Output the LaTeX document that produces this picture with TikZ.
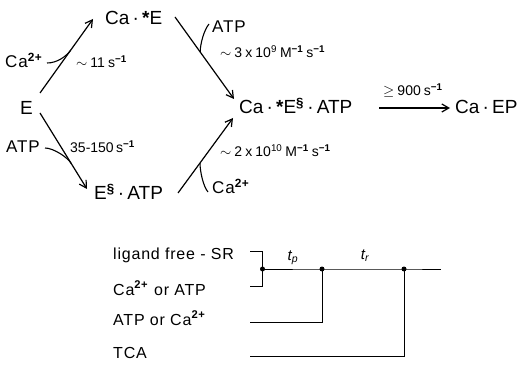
\documentclass[tikz,border=0pt]{standalone}
\usepackage{fontspec}
\setmainfont{Liberation Sans}
\usetikzlibrary{calc,arrows.meta}
\newcommand\mydot{\,·\,}
\newcommand\myinv{\textsuperscript{\textbf{−1}}}
\newcommand\gp{\hspace{0.22em}}
\begin{document}
\begin{tikzpicture}[x=1pt,y=-1pt,
  sp/.style={inner sep=0pt,anchor=base west,font=\fontsize{19}{21}\selectfont},
  rate/.style={inner sep=0pt,anchor=base west,font=\fontsize{14}{16}\selectfont},
  lig/.style={inner sep=0pt,anchor=base west,font=\fontsize{17}{19}\selectfont\addfontfeature{LetterSpace=5}},
  lab/.style={inner sep=0pt,anchor=base west,font=\fontsize{16}{18}\selectfont\addfontfeature{LetterSpace=5}},
  tlab/.style={inner sep=0pt,anchor=base,font=\fontsize{15}{17}\selectfont\itshape},
  rx/.style={line width=1.2pt,-{Straight Barb[length=7pt,width=8pt]}},
  feed/.style={line width=1.1pt},
  wire/.style={line width=1pt},
  dot/.style={circle,fill,inner sep=0pt,minimum size=5pt}]
\useasboundingbox (0,0) rectangle (522,366);
% species
\node[sp] (CaE) at (105,25) {Ca\mydot\textbf{*}E};
\node[sp] (E) at (20,115) {E};
\node[sp] (EA) at (94,200) {E\textsuperscript{\textbf{§}}\mydot ATP};
\node[sp] (CEA) at (239,114) {Ca\mydot\textbf{*}E\textsuperscript{\textbf{§}}\mydot ATP};
\node[sp] (CEP) at (455,114) {Ca\mydot EP};
% ligands
\node[lig] (ca1) at (5,68) {Ca\textsuperscript{\textbf{2+}}};
\node[lig] (atp1) at (6,153) {ATP};
\node[lig] (atp2) at (212,33) {ATP};
\node[lig] (ca2) at (212,194) {Ca\textsuperscript{\textbf{2+}}};
% rates
\node[rate] (k1) at (76,68) {$\sim$\gp 11\gp s\myinv};
\node[rate] (k2) at (70,153) {35-150\,s\myinv};
\node[rate] (k3) at (220,58) {$\sim$\gp 3\gp x\gp 10\textsuperscript{9}\gp M\myinv\gp s\myinv};
\node[rate] (k4) at (220,157) {$\sim$\gp 2\gp x\gp 10\textsuperscript{10}\gp M\myinv\gp s\myinv};
\node[rate] (k5) at (383,96) {$\geq$\gp 900\gp s\myinv};
% reaction arrows
\draw[rx] ($(E.base west)+(20,-22)$) -- coordinate[pos=0.58] (j1) ($(CaE.base west)+(-12,-6)$);
\draw[rx] ($(CaE.base west)+(70,-8)$) -- coordinate[pos=0.427] (j2) ($(CEA.base west)+(-5,-15)$);
\draw[rx] ($(E.base west)+(20,-2)$) -- coordinate[pos=0.667] (j3) ($(EA.base west)+(-7,-11)$);
\draw[rx] ($(EA.base west)+(84,-7)$) -- coordinate[pos=0.4] (j4) ($(CEA.base west)+(-6,4)$);
\draw[rx] ($(CEA.base west)+(140,-6)$) -- ($(CEP.base west)+(-5,-6)$);
% ligand feeds
\draw[feed] ($(ca1.base west)+(42,-5)$) .. controls +(10,0) and +(-4.6,6.5) .. (j1);
\draw[feed] ($(atp1.base west)+(39,-5)$) .. controls +(8,0) and +(-4.1,-6.9) .. (j3);
\draw[feed] ($(atp2.base west)+(-3,-9)$) .. controls +(-5,6) and +(0,-8) .. (j2);
\draw[feed] ($(ca2.base west)+(-4,-2)$) .. controls +(-5,-6) and +(0,8) .. (j4);
% timing scheme
\node[lab] (l1) at (113,259) {ligand free - SR};
\node[lab] (l2) at (113,295) {Ca\textsuperscript{\textbf{2+}} or ATP};
\node[lab] (l3) at (113,325) {ATP or Ca\textsuperscript{\textbf{2+}}};
\node[lab] (l4) at (113,358) {TCA};
\coordinate (w1) at (250,251);
\coordinate (w2) at (250,286.5);
\coordinate (w3) at (250,322);
\coordinate (w4) at (250,356);
\node[dot] (d1) at (262.5,269) {};
\node[dot] (d2) at (322,269) {};
\node[dot] (d3) at (404,269) {};
\coordinate (wend) at (441,269);
\draw[wire] (w1) -| (d1.center) |- (w2);
\draw[wire] (d1.center) -- (d2.center) -- (d3.center) -- (wend);
\draw[wire] (w3) -| (d2.center);
\draw[wire] (w4) -| (d3.center);
\node[tlab] (tp) at (293,260) {t\textsubscript{p}};
\node[tlab] (tr) at (365,259) {t\textsubscript{r}};
\end{tikzpicture}
\end{document}
